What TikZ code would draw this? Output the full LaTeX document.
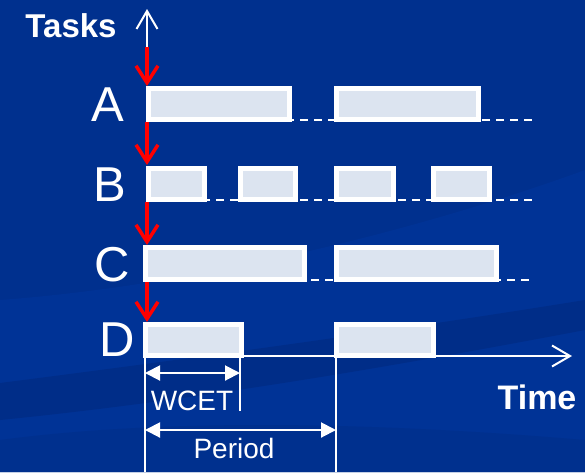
\documentclass[tikz,border=0pt]{standalone}
\usepackage{fontspec}
\setmainfont{Liberation Sans}
\usetikzlibrary{arrows.meta}

\definecolor{bgblue}{RGB}{0,48,142}
\definecolor{bglight}{RGB}{0,51,150}
\definecolor{bgdark}{RGB}{0,45,136}
\definecolor{boxfill}{RGB}{220,228,240}
\definecolor{seqred}{RGB}{255,0,0}

\tikzset{
  taskbox/.style={draw=white, line width=5pt, fill=boxfill, inner sep=0pt, outer sep=0pt},
  rowline/.style={white, line width=2pt, dash pattern=on 8pt off 6pt},
  axisline/.style={white, line width=2pt, -{Straight Barb[length=18pt,width=21pt]}},
  seqarrow/.style={seqred, line width=3.5pt, -{Straight Barb[length=17pt,width=22pt]}},
  guide/.style={white, line width=1.5pt},
  dimarrow/.style={white, line width=2pt,
    {Triangle[length=15pt,width=15pt]}-{Triangle[length=15pt,width=15pt]}},
  rowlabel/.style={text=white, inner sep=0pt, anchor=base,
    font=\fontsize{49}{49}\selectfont},
  axislabel/.style={text=white, inner sep=0pt, anchor=base,
    font=\fontsize{34}{34}\selectfont\bfseries},
  dimlabel/.style={text=white, inner sep=0pt, anchor=base,
    font=\fontsize{28}{28}\selectfont},
}

\begin{document}
\begin{tikzpicture}[x=1pt, y=-1pt]
  % background with faint swooshes
  \fill[bgblue] (0,0) rectangle (585,472);
  \useasboundingbox (0,0) rectangle (585,472);
  \fill[bglight] (0,300) .. controls (200,285) and (420,230) .. (585,170)
     -- (585,472) -- (0,472) -- cycle;
  \fill[bgdark] (0,383) .. controls (180,360) and (400,330) .. (585,300)
     -- (585,330) .. controls (400,365) and (200,400) .. (0,420) -- cycle;
  \fill[bgblue] (0,440) .. controls (150,420) and (350,420) .. (585,440)
     -- (585,472) -- (0,472) -- cycle;

  % axis coordinates
  \coordinate (ytop) at (147,9);
  \coordinate (ystart) at (147,47);
  \coordinate (xstart) at (143,356);
  \coordinate (xend) at (572,356);

  % row baselines
  \coordinate (Al) at (146,120);  \coordinate (Ar) at (532,120);
  \coordinate (Bl) at (146,200);  \coordinate (Br) at (532,200);
  \coordinate (Cl) at (143,280);  \coordinate (Cr) at (532,280);
  \draw[rowline] (Al) -- (Ar);
  \draw[rowline] (Bl) -- (Br);
  \draw[rowline] (Cl) -- (Cr);
  \draw[axisline] (xstart) -- (xend);
  \draw[axisline] (ystart) -- (ytop);

  % task executions
  \node[taskbox, minimum width=141pt, minimum height=31pt] (A1) at (219,104) {};
  \node[taskbox, minimum width=142pt, minimum height=31pt] (A2) at (407.5,104) {};
  \node[taskbox, minimum width=56pt, minimum height=31pt] (B1) at (176.5,183.5) {};
  \node[taskbox, minimum width=55pt, minimum height=31pt] (B2) at (268,183.5) {};
  \node[taskbox, minimum width=57pt, minimum height=31pt] (B3) at (365,183.5) {};
  \node[taskbox, minimum width=56pt, minimum height=31pt] (B4) at (461.5,183.5) {};
  \node[taskbox, minimum width=159pt, minimum height=32pt] (C1) at (225,263.5) {};
  \node[taskbox, minimum width=160pt, minimum height=32pt] (C2) at (416.5,263.5) {};
  \node[taskbox, minimum width=96pt, minimum height=31pt] (D1) at (193.5,339.5) {};
  \node[taskbox, minimum width=97pt, minimum height=31pt] (D2) at (385,339.5) {};

  % release sequence
  \coordinate (rA) at (147,86);   \coordinate (sA) at (147,122);
  \coordinate (rB) at (147,165);  \coordinate (sB) at (147,202);
  \coordinate (rC) at (147,245);  \coordinate (sC) at (147,282);
  \coordinate (rD) at (147,322);
  \draw[seqarrow] (ystart) -- (rA);
  \draw[seqarrow] (sA) -- (rB);
  \draw[seqarrow] (sB) -- (rC);
  \draw[seqarrow] (sC) -- (rD);

  % row labels
  \node[rowlabel] (labA) at (108,121.5) {A};
  \node[rowlabel] (labB) at (110,201.5) {B};
  \node[rowlabel] (labC) at (112,281) {C};
  \node[rowlabel] (labD) at (117,356) {D};
  \node[axislabel, font=\fontsize{33}{33}\selectfont\bfseries] (tasks) at (71,37) {Tasks};
  \node[axislabel] (time) at (537,409) {Time};

  % dimension guides
  \coordinate (g0t) at (145,357);  \coordinate (g0b) at (145,472);
  \coordinate (g1t) at (240,357);  \coordinate (g1b) at (240,411);
  \coordinate (g2t) at (336,357);  \coordinate (g2b) at (336,472);
  \draw[guide] (g0t) -- (g0b);
  \draw[guide] (g1t) -- (g1b);
  \draw[guide] (g2t) -- (g2b);

  \coordinate (wl) at (145,373);  \coordinate (wr) at (240,373);
  \coordinate (pl) at (145,430);  \coordinate (pr) at (336,430);
  \draw[dimarrow] (wl) -- (wr);
  \draw[dimarrow] (pl) -- (pr);
  \node[dimlabel] (wcet) at (192,410.5) {WCET};
  \node[dimlabel] (period) at (234,458) {Period};
\end{tikzpicture}
\end{document}
